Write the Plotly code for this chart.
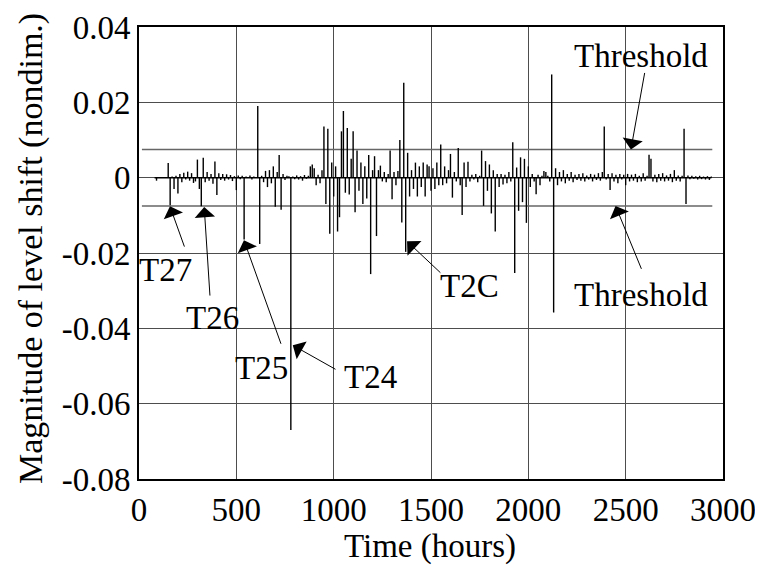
import plotly.graph_objects as go

# ---- data ----
time_hours = list(range(80, 2950, 10))
level_shift = [
    0.0, -0.0008, 0.0, 0.0, 0.0, 0.0, 0.0, 0.0039, -0.0073, 0.0003,
    -0.0030, 0.0005, -0.0042, 0.0010, -0.0012, 0.0013, -0.0005, 0.0016, -0.0008, 0.0012,
    -0.0014, -0.0010, 0.0048, -0.0030, -0.0076, 0.0053, -0.0012, 0.0015, -0.0008, 0.0010,
    -0.0016, 0.0043, -0.0046, 0.0012, -0.0006, 0.0010, -0.0008, 0.0009, -0.0005, 0.0007,
    -0.0009, 0.0004, -0.0033, 0.0006, -0.0004, 0.0005, -0.0164, 0.0003, 0.0, 0.0006,
    -0.0005, 0.0003, 0.0, 0.0190, -0.0176, 0.0005, -0.0012, 0.0018, -0.0025, 0.0020,
    -0.0015, 0.0030, -0.0077, 0.0015, 0.0060, -0.0085, 0.0010, -0.0006, 0.0005, 0.0004,
    -0.0670, 0.0003, -0.0004, 0.0006, -0.0005, 0.0004, -0.0008, 0.0007, -0.0003, 0.0005,
    0.0030, 0.0035, 0.0025, -0.0020, 0.0008, -0.0015, 0.0020, 0.0136, -0.0070, 0.0130,
    -0.0149, 0.0040, -0.0050, 0.0030, -0.0143, -0.0105, 0.0123, 0.0177, -0.0040, 0.0132,
    -0.0045, 0.0050, 0.0123, -0.0092, 0.0072, -0.0035, 0.0040, -0.0070, 0.0030, -0.0055,
    0.0060, -0.0256, 0.0020, 0.0057, -0.0155, 0.0020, 0.0032, -0.0010, 0.0015, -0.0012,
    0.0010, 0.0072, -0.0057, 0.0015, -0.0020, 0.0018, 0.0100, -0.0119, 0.0252, -0.0197,
    0.0066, -0.0050, 0.0020, -0.0030, 0.0040, -0.0050, 0.0030, -0.0025, 0.0040, -0.0050,
    0.0035, 0.0030, -0.0035, 0.0025, -0.0030, 0.0040, -0.0020, 0.0088, -0.0020, 0.0030,
    -0.0015, 0.0020, 0.0063, -0.0053, 0.0015, -0.0010, 0.0079, -0.0020, -0.0099, 0.0040,
    -0.0025, 0.0042, -0.0010, 0.0008, -0.0005, 0.0010, -0.0012, 0.0005, 0.0072, -0.0075,
    0.0044, -0.0035, 0.0035, -0.0095, 0.0020, -0.0143, 0.0010, -0.0025, 0.0010, -0.0018,
    0.0008, -0.0015, 0.0015, -0.0010, 0.0094, -0.0253, 0.0027, -0.0088, 0.0054, -0.0065,
    0.0050, -0.0120, 0.0030, -0.0025, 0.0010, -0.0010, -0.0044, 0.0008, -0.0020, 0.0005,
    0.0018, 0.0015, 0.0005, -0.0010, 0.0274, -0.0358, 0.0025, -0.0020, 0.0015, -0.0010,
    0.0020, -0.0015, 0.0010, -0.0008, 0.0015, -0.0012, 0.0008, -0.0006, 0.0010, -0.0008,
    0.0012, -0.0010, 0.0006, -0.0005, 0.0010, -0.0010, 0.0008, -0.0006, 0.0012, -0.0008,
    0.0015, 0.0136, -0.0005, 0.0010, -0.0033, 0.0012, -0.0010, 0.0008, -0.0015, 0.0010,
    -0.0005, 0.0008, -0.0020, 0.0010, -0.0010, 0.0008, -0.0008, 0.0010, -0.0012, 0.0005,
    -0.0010, 0.0012, -0.0008, 0.0005, 0.0061, 0.0050, -0.0010, 0.0008, -0.0012, 0.0010,
    -0.0008, 0.0012, -0.0010, 0.0006, -0.0008, 0.0010, -0.0012, 0.0020, -0.0008, 0.0006,
    -0.0010, 0.0005, 0.0130, -0.0070, 0.0006, -0.0004, 0.0005, -0.0003, 0.0004, -0.0005,
    0.0005, -0.0004, 0.0003, -0.0005, 0.0004, -0.0006, 0.0003,
]
threshold_hours = [15, 2945]
threshold_upper = [0.0075, 0.0075]
threshold_lower = [-0.0075, -0.0075]

x_tick_values = [0, 500, 1000, 1500, 2000, 2500, 3000]
x_tick_labels = ["0", "500", "1000", "1500", "2000", "2500", "3000"]
y_tick_values = [-0.08, -0.06, -0.04, -0.02, 0, 0.02, 0.04]
y_tick_labels = ["-0.08", "-0.06", "-0.04", "-0.02", "0", "0.02", "0.04"]

FONT = "Liberation Serif"

# each level shift is drawn as a vertical tick from the zero baseline
stem_x, stem_y = [], []
for t, v in zip(time_hours, level_shift):
    stem_x += [t, t, None]
    stem_y += [0, v, None]

fig = go.Figure()
fig.add_trace(go.Scatter(x=threshold_hours, y=threshold_upper, mode="lines",
                         line=dict(color="#666666", width=1.5), hoverinfo="skip"))
fig.add_trace(go.Scatter(x=threshold_hours, y=threshold_lower, mode="lines",
                         line=dict(color="#666666", width=1.5), hoverinfo="skip"))
fig.add_trace(go.Scatter(x=[time_hours[0], time_hours[-1]], y=[0, 0], mode="lines",
                         line=dict(color="black", width=1.5), hoverinfo="skip"))
fig.add_trace(go.Scatter(x=stem_x, y=stem_y, mode="lines", connectgaps=False,
                         line=dict(color="black", width=1.4)))

# arrows: (head_x, head_y, tail_x, tail_y)
arrows = [
    (2527, 0.0075, 2599, 0.0282),
    (2448, -0.0075, 2584, -0.0246),
    (159, -0.0076, 236, -0.0187),
    (335, -0.0078, 365, -0.0317),
    (539, -0.0166, 732, -0.0445),
    (790, -0.0445, 1017, -0.0511),
    (1377, -0.0169, 1556, -0.0256),
]
for hx, hy, tx, ty in arrows:
    fig.add_annotation(x=hx, y=hy, ax=tx, ay=ty, xref="x", yref="y",
                       axref="x", ayref="y", text="", showarrow=True,
                       arrowhead=1, arrowsize=3.4, arrowwidth=1, arrowcolor="black")

labels = [
    ("Threshold", 2579, 0.0322),
    ("Threshold", 2579, -0.0312),
    ("T27", 134, -0.0246),
    ("T26", 380, -0.0373),
    ("T25", 627, -0.0506),
    ("T24", 1187, -0.0530),
    ("T2C", 1700, -0.0288),
]
for txt, lx, ly in labels:
    fig.add_annotation(x=lx, y=ly, xref="x", yref="y", text=txt, showarrow=False,
                       font=dict(family=FONT, size=33, color="black"),
                       xanchor="center", yanchor="middle")

# axis titles
fig.add_annotation(x=0.4976, y=-0.150, xref="paper", yref="paper", text="Time (hours)",
                   showarrow=False, font=dict(family=FONT, size=33, color="black"),
                   xanchor="center", yanchor="middle")
fig.add_annotation(x=-0.184, y=0.51, xref="paper", yref="paper",
                   text="Magnitude of level shift (nondim.)", textangle=-90,
                   showarrow=False, font=dict(family=FONT, size=34, color="black"),
                   xanchor="center", yanchor="middle")

# page body has an 8px margin, so the figure is offset by 8px; compensate
fig.update_layout(
    width=763, height=572,
    margin=dict(l=131, r=48, t=19, b=101, autoexpand=False),
    paper_bgcolor="white", plot_bgcolor="white",
    showlegend=False,
    font=dict(family=FONT, size=33, color="black"),
)
fig.update_xaxes(
    range=[0, 3000], tickvals=x_tick_values, ticktext=x_tick_labels,
    showgrid=True, gridcolor="#4d4d4d", gridwidth=1, zeroline=False,
    showline=True, linecolor="black", linewidth=2, mirror=True,
    ticks="", tickfont=dict(family=FONT, size=33), automargin=False,
)
fig.update_yaxes(
    range=[-0.08, 0.04], tickvals=y_tick_values, ticktext=y_tick_labels,
    showgrid=True, gridcolor="#4d4d4d", gridwidth=1, zeroline=False,
    showline=True, linecolor="black", linewidth=2, mirror=True,
    ticks="", tickfont=dict(family=FONT, size=33), automargin=False,
)

fig.write_html("out.html")
